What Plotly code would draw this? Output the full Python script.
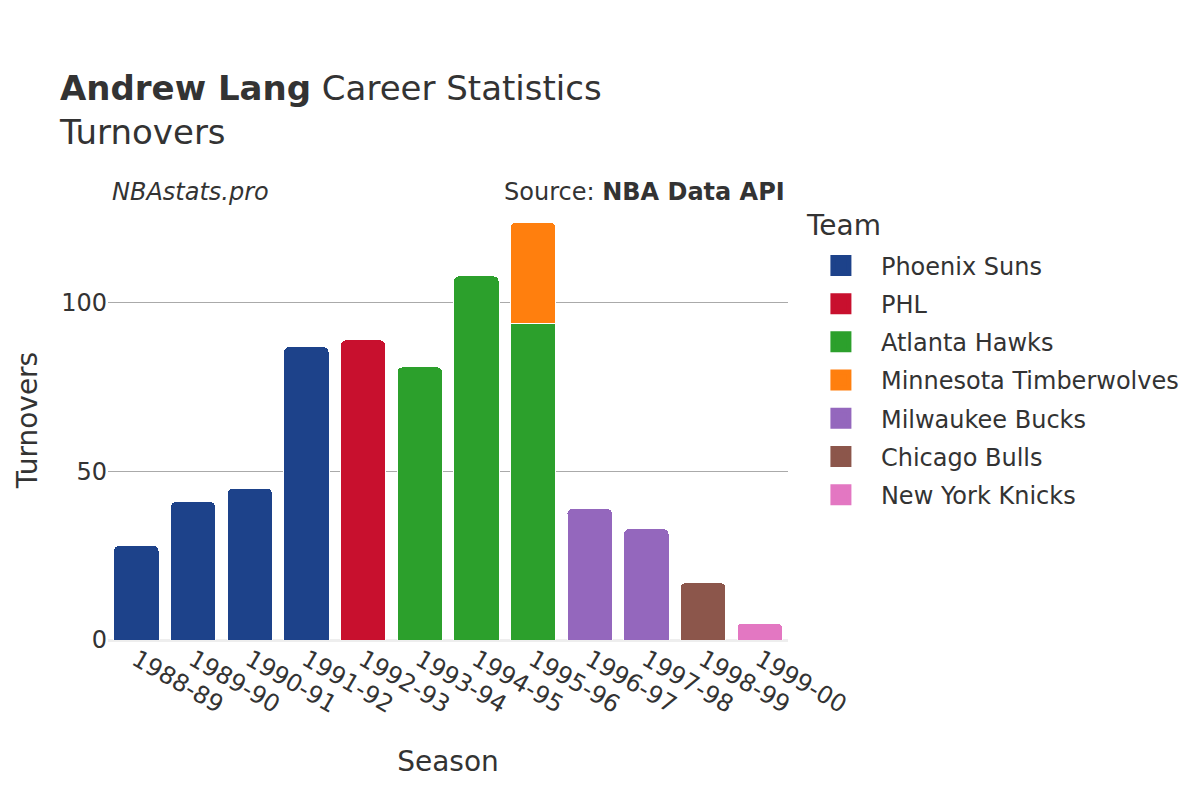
import plotly.graph_objects as go

seasons = ["1988-89", "1989-90", "1990-91", "1991-92", "1992-93", "1993-94",
           "1994-95", "1995-96", "1996-97", "1997-98", "1998-99", "1999-00"]

teams = ["Phoenix Suns", "PHL", "Atlanta Hawks", "Minnesota Timberwolves",
         "Milwaukee Bucks", "Chicago Bulls", "New York Knicks"]
team_colors = ["#1D428A", "#C8102E", "#2CA02C", "#FF7F0E", "#9467BD", "#8C564B", "#E377C2"]

team_seasons = {
    "Phoenix Suns": ["1988-89", "1989-90", "1990-91", "1991-92"],
    "PHL": ["1992-93"],
    "Atlanta Hawks": ["1993-94", "1994-95", "1995-96"],
    "Minnesota Timberwolves": ["1995-96"],
    "Milwaukee Bucks": ["1996-97", "1997-98"],
    "Chicago Bulls": ["1998-99"],
    "New York Knicks": ["1999-00"],
}
team_turnovers = {
    "Phoenix Suns": [28, 41, 45, 87],
    "PHL": [89],
    "Atlanta Hawks": [81, 108, 94],
    "Minnesota Timberwolves": [30],
    "Milwaukee Bucks": [39, 33],
    "Chicago Bulls": [17],
    "New York Knicks": [5],
}

fig = go.Figure()
for team, color in zip(teams, team_colors):
    fig.add_trace(go.Bar(
        x=team_seasons[team], y=team_turnovers[team], name=team,
        marker=dict(color=color, line=dict(color="white", width=1)),
        showlegend=False, legendgroup=team,
    ))
# legend entries with larger square swatches
for team, color in zip(teams, team_colors):
    fig.add_trace(go.Scatter(
        x=[None], y=[None], mode="markers", name=team, legendgroup=team,
        marker=dict(symbol="square", size=16, color=color,
                    line=dict(color=color, width=5)),
        showlegend=True, hoverinfo="skip",
    ))

font_color = "#333333"
fig.update_layout(
    width=1200, height=800,
    barmode="stack", bargap=0.2, barcornerradius=5,
    plot_bgcolor="white", paper_bgcolor="white",
    font=dict(family="DejaVu Sans", color=font_color, size=24),
    margin=dict(l=100, r=420, t=192, b=168),
    title=dict(
        text="<b>Andrew Lang</b> Career Statistics<br>Turnovers",
        x=0.0433, xanchor="left", y=0.885, yanchor="top",
        xref="container", yref="container",
        font=dict(size=34, color=font_color),
    ),
    xaxis=dict(
        title=dict(text="Season", font=dict(size=28), standoff=33),
        categoryorder="array", categoryarray=seasons,
        tickangle=30, tickfont=dict(size=24), showgrid=False,
    ),
    yaxis=dict(
        title=dict(text="Turnovers", font=dict(size=28)),
        tickfont=dict(size=24), gridcolor="#AAAAAA", gridwidth=1,
        zeroline=True, zerolinecolor="#EEEEEE", zerolinewidth=3,
        tickvals=[0, 50, 100],
    ),
    legend=dict(
        font=dict(size=24), x=1.019, y=0.9015, yanchor="top",
        traceorder="grouped", tracegroupgap=4, itemwidth=70,
    ),
    annotations=[
        dict(text="<i>NBAstats.pro</i>", xref="paper", yref="paper",
             x=0.122, y=1.018, xanchor="center", yanchor="middle",
             showarrow=False, font=dict(size=24, color=font_color)),
        dict(text="Source: <b>NBA Data API</b>", xref="paper", yref="paper",
             x=0.998, y=1.018, xanchor="right", yanchor="middle",
             showarrow=False, font=dict(size=24, color=font_color)),
        dict(text="Team", xref="paper", yref="paper",
             x=1.024, y=0.941, xanchor="left", yanchor="middle",
             showarrow=False, font=dict(size=28, color=font_color)),
    ],
)

fig.write_html("out.html")
